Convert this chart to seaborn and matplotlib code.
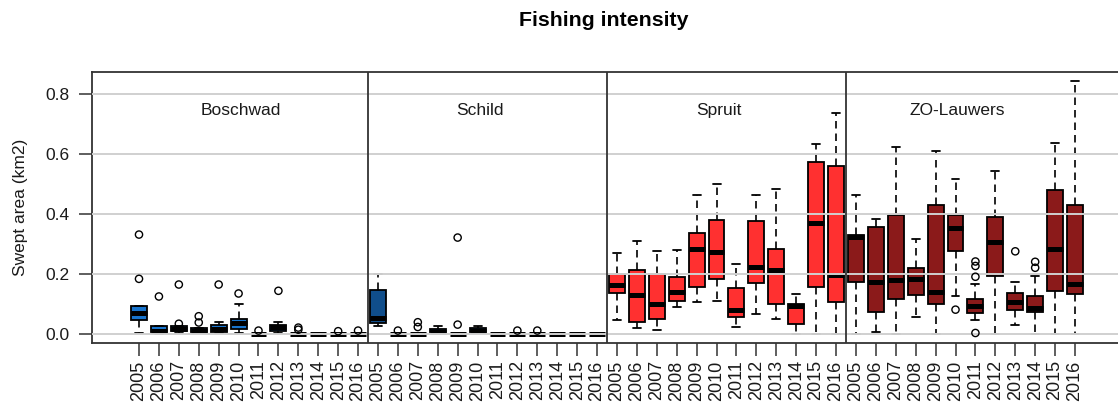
import numpy as np
import pandas as pd
import matplotlib
matplotlib.use("Agg")
import matplotlib.pyplot as plt
import seaborn as sns

# ---------------- data ----------------
years = ["2005", "2006", "2007", "2008", "2009", "2010",
         "2011", "2012", "2013", "2014", "2015", "2016"]
regions = ["Boschwad", "Schild", "Spruit", "ZO-Lauwers"]
region_colors = ["#1874CD", "#104E8B", "#FF3030", "#8B1A1A"]

# five-number summaries per year: [lower whisker, Q1, median, Q3, upper whisker]
boschwad_box = [
    [0.002, 0.047, 0.068, 0.091, 0.091],
    [0.000, 0.004, 0.007, 0.026, 0.026],
    [0.002, 0.007, 0.015, 0.024, 0.024],
    [0.002, 0.004, 0.010, 0.020, 0.020],
    [0.002, 0.004, 0.014, 0.028, 0.039],
    [0.002, 0.016, 0.036, 0.050, 0.098],
    [0.000, 0.000, 0.000, 0.000, 0.000],
    [0.003, 0.010, 0.022, 0.030, 0.039],
    [0.000, 0.000, 0.000, 0.000, 0.000],
    [0.000, 0.000, 0.000, 0.000, 0.000],
    [0.000, 0.000, 0.000, 0.000, 0.000],
    [0.000, 0.000, 0.000, 0.000, 0.000],
]
boschwad_out = [[0.183, 0.331], [0.124], [0.033, 0.164], [0.037, 0.058], [0.164],
                [0.134], [0.010], [0.143], [0.013, 0.020], [], [0.008], [0.010]]

schild_box = [
    [0.024, 0.035, 0.052, 0.145, 0.198],
    [0.000, 0.000, 0.000, 0.000, 0.000],
    [0.000, 0.000, 0.000, 0.000, 0.000],
    [0.002, 0.004, 0.006, 0.016, 0.026],
    [0.000, 0.000, 0.000, 0.000, 0.000],
    [0.002, 0.004, 0.010, 0.017, 0.026],
    [0.000, 0.000, 0.000, 0.000, 0.000],
    [0.000, 0.000, 0.000, 0.000, 0.000],
    [0.000, 0.000, 0.000, 0.000, 0.000],
    [0.000, 0.000, 0.000, 0.000, 0.000],
    [0.000, 0.000, 0.000, 0.000, 0.000],
    [0.000, 0.000, 0.000, 0.000, 0.000],
]
schild_out = [[], [0.010], [0.022, 0.038], [], [0.030, 0.321],
              [], [], [0.010], [0.010], [], [], []]

spruit_box = [
    [0.046, 0.134, 0.164, 0.198, 0.271],
    [0.020, 0.039, 0.129, 0.212, 0.311],
    [0.011, 0.049, 0.099, 0.198, 0.276],
    [0.089, 0.109, 0.139, 0.188, 0.281],
    [0.104, 0.157, 0.282, 0.336, 0.464],
    [0.109, 0.183, 0.272, 0.381, 0.500],
    [0.021, 0.054, 0.080, 0.153, 0.232],
    [0.065, 0.168, 0.222, 0.375, 0.464],
    [0.050, 0.099, 0.213, 0.282, 0.485],
    [0.000, 0.033, 0.093, 0.098, 0.131],
    [0.000, 0.157, 0.371, 0.575, 0.633],
    [0.000, 0.104, 0.195, 0.559, 0.739],
]
spruit_out = [[] for _ in range(12)]

zo_lauwers_box = [
    [0.000, 0.174, 0.324, 0.331, 0.464],
    [0.006, 0.073, 0.173, 0.357, 0.382],
    [0.000, 0.114, 0.179, 0.398, 0.623],
    [0.055, 0.128, 0.183, 0.219, 0.316],
    [0.000, 0.098, 0.140, 0.431, 0.609],
    [0.124, 0.276, 0.352, 0.396, 0.516],
    [0.047, 0.069, 0.093, 0.115, 0.165],
    [0.000, 0.192, 0.307, 0.390, 0.543],
    [0.030, 0.078, 0.104, 0.135, 0.173],
    [0.000, 0.071, 0.084, 0.125, 0.192],
    [0.000, 0.143, 0.282, 0.481, 0.636],
    [0.000, 0.132, 0.167, 0.431, 0.846],
]
zo_lauwers_out = [[], [], [], [], [], [0.080], [0.002, 0.190, 0.226, 0.241],
                  [], [0.275], [0.220, 0.240], [], []]

yticks = [0.0, 0.2, 0.4, 0.6, 0.8]

# ---------------- build long tables ----------------
box_sets = [boschwad_box, schild_box, spruit_box, zo_lauwers_box]
out_sets = [boschwad_out, schild_out, spruit_out, zo_lauwers_out]
cats = [f"{r} {y}" for r in regions for y in years]

box_rows, out_rows = [], []
for r, bx, ox in zip(regions, box_sets, out_sets):
    for y, stats, outs in zip(years, bx, ox):
        for v in stats:
            box_rows.append({"cat": f"{r} {y}", "region": r, "value": v})
        for v in outs:
            out_rows.append({"cat": f"{r} {y}", "region": r, "value": v})
box_df = pd.DataFrame(box_rows)
out_df = pd.DataFrame(out_rows)

# ---------------- plot ----------------
sns.set_style("white")
plt.rcParams["font.family"] = ["Liberation Sans", "DejaVu Sans"]
txt = "#1a1a1a"
frame = "#333333"

fig = plt.figure(figsize=(11.18, 4.09), dpi=100)
ax = fig.add_axes([92 / 1118, 66 / 409, (1122 - 92) / 1118, (343 - 72) / 409])

sns.boxplot(data=box_df, x="cat", y="value", hue="region", order=cats,
            hue_order=regions, palette=region_colors, dodge=False,
            whis=(0, 100), showfliers=False, width=0.8, saturation=1,
            linecolor="black", linewidth=1.3, legend=False, ax=ax,
            medianprops=dict(linewidth=3.6, solid_capstyle="butt"),
            whiskerprops=dict(linestyle=(0, (4.5, 3)), linewidth=1.2),
            capprops=dict(linewidth=1.3))

n_before = len(ax.collections)
sns.stripplot(data=out_df, x="cat", y="value", order=cats, jitter=False,
              size=5.2, color="black", ax=ax)
for coll in ax.collections[n_before:]:
    coll.set_facecolor("none")
    coll.set_edgecolor("black")
    coll.set_linewidth(1.0)

ax.set_xlim(-2.36, 49.36)
ax.set_ylim(-0.0315, 0.8745)

# grid lines drawn on top, as in the reference
ax.set_axisbelow(False)
ax.yaxis.grid(True, color="#d0d0d0", linewidth=1.4)
ax.xaxis.grid(False)

for b in [11.5, 23.5, 35.5]:
    ax.axvline(b, color=frame, linewidth=1.3, zorder=3)

for i, r in enumerate(regions):
    ax.text(i * 12 + 5.1, 0.747, r, ha="center", va="center",
            fontsize=12.5, color=txt)

ax.set_xticks(range(len(cats)))
ax.set_xticklabels(years * len(regions), rotation=90, fontsize=13, color=txt)
ax.set_yticks(yticks)
ax.set_yticklabels([f"{v:.1f}" for v in yticks], fontsize=12.5, color=txt)
ax.tick_params(axis="x", length=9, width=1.1, color=frame, pad=3.5, bottom=True)
ax.tick_params(axis="y", length=9.5, width=1.1, color=frame, pad=7, left=True)

ax.set_xlabel("")
ax.set_ylabel("Swept area (km2)", fontsize=12.5, color=txt)
ax.yaxis.set_label_coords(-0.062, 0.5)

for s in ax.spines.values():
    s.set_color(frame)
    s.set_linewidth(1.3)
    s.set_visible(True)

fig.text(604 / 1118, 1 - 20 / 409, "Fishing intensity", ha="center",
         va="center", fontsize=15.3, fontweight="bold", color="black")

fig.savefig("out.png", dpi=100)
